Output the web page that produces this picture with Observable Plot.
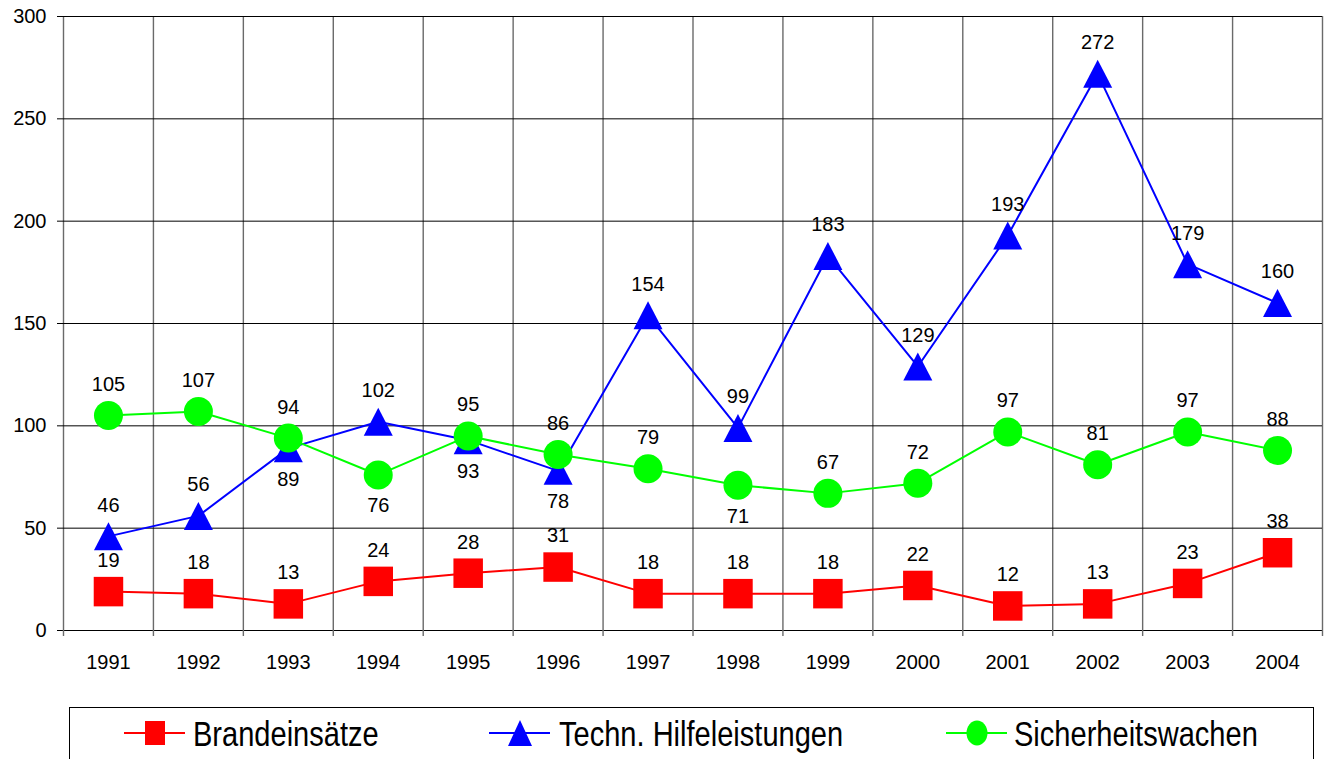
<!DOCTYPE html>
<html><head><meta charset="utf-8">
<script src="https://cdn.jsdelivr.net/npm/d3@7"></script>
<script src="https://cdn.jsdelivr.net/npm/@observablehq/plot@0.6"></script>
<style>
body{margin:0;background:#fff;font-family:"Liberation Sans",Arial,sans-serif;}
#chart{position:relative;width:1330px;height:759px;overflow:hidden;background:#fff}
#chart svg{display:block}
</style></head><body><div id="chart"></div>
<script>
// ---- data ----
const years = [1991,1992,1993,1994,1995,1996,1997,1998,1999,2000,2001,2002,2003,2004];
const brandeinsaetze = [19,18,13,24,28,31,18,18,18,22,12,13,23,38];
const technHilfe = [46,56,89,102,93,78,154,99,183,129,193,272,179,160];
const sicherheitswachen = [105,107,94,76,95,86,79,71,67,72,97,81,97,88];
const seriesNames = ["Brandeinsätze","Techn. Hilfeleistungen","Sicherheitswachen"];
const seriesColors = ["#ff0000","#0000ff","#00ff00"];
const yTicks = [0,50,100,150,200,250,300];
// which data labels sit below their marker
const labelsBelow = {"Techn. Hilfeleistungen":[1993,1995,1996],"Sicherheitswachen":[1994,1998]};

const seriesValues = [brandeinsaetze, technHilfe, sicherheitswachen];
const rows = seriesNames.flatMap((s,i)=>years.map((yr,j)=>({series:s, year:yr, value:seriesValues[i][j],
  below:(labelsBelow[s]||[]).includes(yr)})));
const boundaries = d3.range(years.length+1).map(i=>years[0]-0.5+i);

// custom marker shapes
const squareSym = {draw(c){const s=14.75;c.moveTo(-s,-s);c.lineTo(s,-s);c.lineTo(s,s);c.lineTo(-s,s);c.closePath();}};
const triangleSym = {draw(c){c.moveTo(0,-14);c.lineTo(14.5,14);c.lineTo(-14.5,14);c.closePath();}};
const circleSym = {draw(c){c.moveTo(14.5,0);c.arc(0,0,14.5,0,2*Math.PI);c.closePath();}};
const symbols = [squareSym, triangleSym, circleSym];

const marks = [
  Plot.ruleX(boundaries,{stroke:"#6a6a6a",strokeWidth:1.4}),
  Plot.ruleY(yTicks,{stroke:"#000",strokeWidth:1}),
  Plot.axisY(yTicks,{tickSize:6,tickPadding:11,fontSize:20,label:null,stroke:"#000"}),
  Plot.axisX(boundaries,{tickSize:6,tickFormat:()=>"",label:null,stroke:"#6a6a6a",strokeWidth:1.4}),
  Plot.axisX(years,{tickSize:0,tickPadding:24,fontSize:20,label:null,tickFormat:d=>String(d)})
];
seriesNames.forEach((s,i)=>{
  const d = rows.filter(r=>r.series===s);
  marks.push(Plot.line(d,{x:"year",y:"value",stroke:seriesColors[i],strokeWidth:2}));
  marks.push(Plot.dot(d,{x:"year",y:"value",fill:seriesColors[i],stroke:"none",symbol:()=>symbols[i],r:10}));
});
marks.push(Plot.text(rows.filter(r=>!r.below),{x:"year",y:"value",text:d=>String(d.value),dy:-31,fontSize:20,fill:"#000"}));
marks.push(Plot.text(rows.filter(r=>r.below),{x:"year",y:"value",text:d=>String(d.value),dy:31,fontSize:20,fill:"#000"}));

const chart = Plot.plot({
  width:1330, height:700,
  marginTop:16, marginBottom:70, marginLeft:63, marginRight:8,
  x:{type:"linear", domain:[years[0]-0.5, years[years.length-1]+0.5]},
  y:{domain:[0,300]},
  style:{fontFamily:"'Liberation Sans',Arial,sans-serif",fontSize:"20px",color:"#000",background:"#fff",overflow:"visible"},
  marks
});
chart.querySelectorAll("text").forEach(t=>{t.style.fontSize="20px";t.style.fontFamily="'Liberation Sans',Arial,sans-serif";});
const root = document.getElementById("chart");
root.appendChild(chart);

// ---- legend ----
const lg = d3.select(root).append("svg").attr("width",1330).attr("height",59)
  .style("position","absolute").style("left","0px").style("top","700px");
lg.append("rect").attr("x",69.5).attr("y",7.5).attr("width",1244).attr("height",80)
  .attr("fill","#fff").attr("stroke","#000").attr("stroke-width",1);
const lineStart = [124,489,946];
const textStart = [193,559,1014];
const cy = 33;
seriesNames.forEach((s,i)=>{
  const g = lg.append("g");
  g.append("line").attr("x1",lineStart[i]).attr("x2",lineStart[i]+61).attr("y1",cy).attr("y2",cy)
    .attr("stroke",seriesColors[i]).attr("stroke-width",2);
  const mx = lineStart[i]+31;
  if(i===0) g.append("rect").attr("x",mx-10).attr("y",cy-12).attr("width",20).attr("height",24).attr("fill",seriesColors[i]);
  if(i===1) g.append("path").attr("d",`M${mx},${cy-13}L${mx+12},${cy+13}L${mx-12},${cy+13}Z`).attr("fill",seriesColors[i]);
  if(i===2) g.append("ellipse").attr("cx",mx).attr("cy",cy).attr("rx",10.5).attr("ry",12.5).attr("fill",seriesColors[i]);
  g.append("text").attr("transform",`translate(${textStart[i]},${cy+12.5}) scale(0.83,1)`)
    .attr("font-family","'Liberation Sans',Arial,sans-serif").attr("font-size",35).attr("fill","#000").text(s);
});
</script></body></html>
